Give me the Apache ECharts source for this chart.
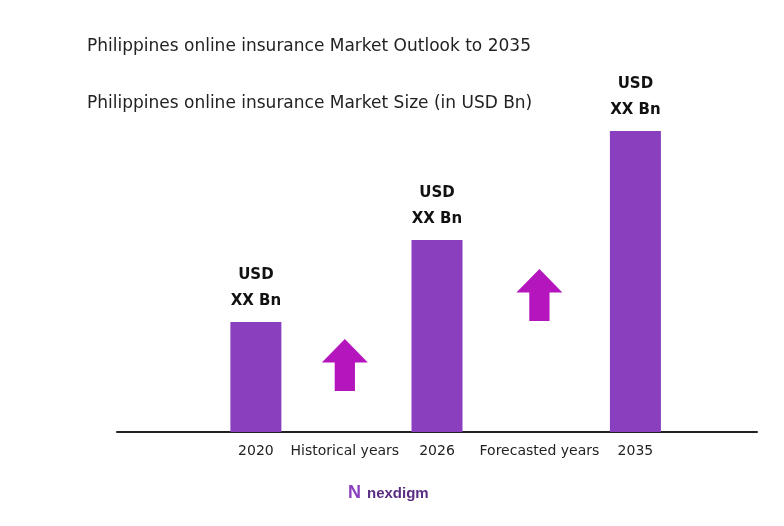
<!DOCTYPE html>
<html><head><meta charset="utf-8">
<script src="https://cdn.jsdelivr.net/npm/echarts@6/dist/echarts.min.js"></script>
<style>html,body{margin:0;background:#fff}#c{width:784px;height:526px}</style>
</head><body><div id="c"></div>
<script>
// bar positions on a 0-100 horizontal scale
var years = ['2020', '2026', '2035'];
var yearPos = [21.7, 50, 81];
var barValues = [110, 192, 301];
var periodNames = ['Historical years', 'Forecasted years'];
var periodPos = [35.6, 66];
var arrowValues = [67, 137];

var tickPos = yearPos.concat(periodPos);
var tickName = {};
yearPos.forEach(function (p, i) { tickName[p] = years[i]; });
periodPos.forEach(function (p, i) { tickName[p] = periodNames[i]; });

var chart = echarts.init(document.getElementById('c'));
var arrow = 'path://M50,0 L100,45 L72,45 L72,100 L28,100 L28,45 L0,45 Z';
chart.setOption({
    animation: false,
    textStyle: {fontFamily: 'DejaVu Sans'},
    title: [
        {text: 'Philippines online insurance Market Outlook to 2035', left: 82, top: 33,
         textStyle: {fontSize: 17, fontWeight: 'normal', color: '#222', fontFamily: 'DejaVu Sans'}},
        {text: 'Philippines online insurance Market Size (in USD Bn)', left: 82, top: 90,
         textStyle: {fontSize: 17, fontWeight: 'normal', color: '#222', fontFamily: 'DejaVu Sans'}}
    ],
    grid: {left: 117, right: 27, top: 131, bottom: 94},
    xAxis: {
        type: 'value', min: 0, max: 100, splitLine: {show: false},
        axisLine: {show: true, onZero: false, lineStyle: {color: '#222', width: 2}},
        axisTick: {show: false},
        axisLabel: {customValues: tickPos, formatter: function (v) { return tickName[v] || ''; },
                    color: '#222', fontSize: 14, margin: 12}
    },
    yAxis: {type: 'value', min: 0, max: 301, show: false},
    series: [
        {
            type: 'bar', barWidth: 51,
            itemStyle: {color: '#8a3fbf'},
            label: {show: true, position: 'top', distance: 8, formatter: 'USD\nXX Bn',
                    fontWeight: 'bold', fontSize: 15, color: '#111', lineHeight: 26},
            data: yearPos.map(function (p, i) { return [p, barValues[i]]; })
        },
        {
            type: 'scatter', symbol: arrow, symbolSize: [46, 52],
            itemStyle: {color: '#b415bd', opacity: 1},
            data: periodPos.map(function (p, i) { return [p, arrowValues[i]]; })
        }
    ],
    graphic: [
        {type: 'text', left: 348, top: 484,
         style: {text: 'N', fontSize: 18, fontWeight: 'bold', fill: '#8a3fbf'}},
        {type: 'text', left: 367, top: 486,
         style: {text: 'nexdigm', fontSize: 15, fontWeight: 'bold', fill: '#5a2d82'}}
    ]
});
</script></body></html>
